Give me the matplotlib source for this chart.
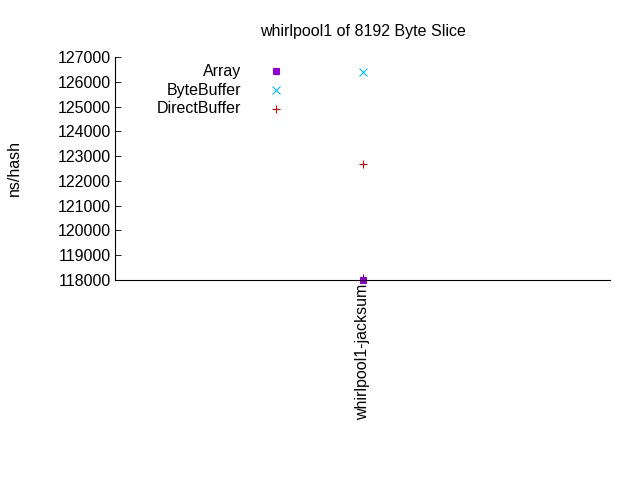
import matplotlib
matplotlib.use("Agg")
import matplotlib.pyplot as plt

categories = ["whirlpool1-jacksum"]
series = ["Array", "ByteBuffer", "DirectBuffer"]
values = {"Array": [118000], "ByteBuffer": [126400], "DirectBuffer": [122700]}
markers = {"Array": "s", "ByteBuffer": "x", "DirectBuffer": "+"}
colors = {"Array": "#9400d3", "ByteBuffer": "#00bfff", "DirectBuffer": "#e00000"}
yticks = list(range(118000, 127001, 1000))

FS = 11.5
plt.rcParams['font.family'] = ['Liberation Sans', 'DejaVu Sans']
fig = plt.figure(figsize=(6.4, 4.8), dpi=100)
ax = fig.add_axes([115/640, 200/480, 495/640, 223/480])
xs = list(range(len(categories)))
for s in series:
    ax.plot(xs, values[s], linestyle='none', marker=markers[s], color=colors[s],
            markersize=5 if s == "Array" else 6, markeredgewidth=0.8, clip_on=False)
ax.set_xlim(-1, 1)
ax.set_ylim(118000, 127000)
ax.set_yticks(yticks)
ax.set_yticklabels([str(v) for v in yticks], fontsize=FS)
ax.set_xticks(xs)
ax.set_xticklabels(categories, rotation=90, fontsize=FS)
ax.tick_params(direction='in', length=4, width=0.6, pad=3)
for sp in ['top', 'right']:
    ax.spines[sp].set_visible(False)
for sp in ['left', 'bottom']:
    ax.spines[sp].set_linewidth(0.8)
fig.text(14/640, 1 - 168/480, "ns/hash", rotation=90, ha='center', va='center', fontsize=FS)
ax.set_title("whirlpool1 of 8192 Byte Slice", fontsize=FS, pad=15)

# key
for i, s in enumerate(series):
    y = 0.935 - i * 0.083
    ax.text(0.255, y, s, transform=ax.transAxes, ha='right', va='center', fontsize=FS)
    ax.plot([0.325], [y], transform=ax.transAxes, linestyle='none', marker=markers[s],
            color=colors[s], markersize=5 if s == "Array" else 6, markeredgewidth=0.8,
            clip_on=False)
fig.savefig("out.png", dpi=100)
